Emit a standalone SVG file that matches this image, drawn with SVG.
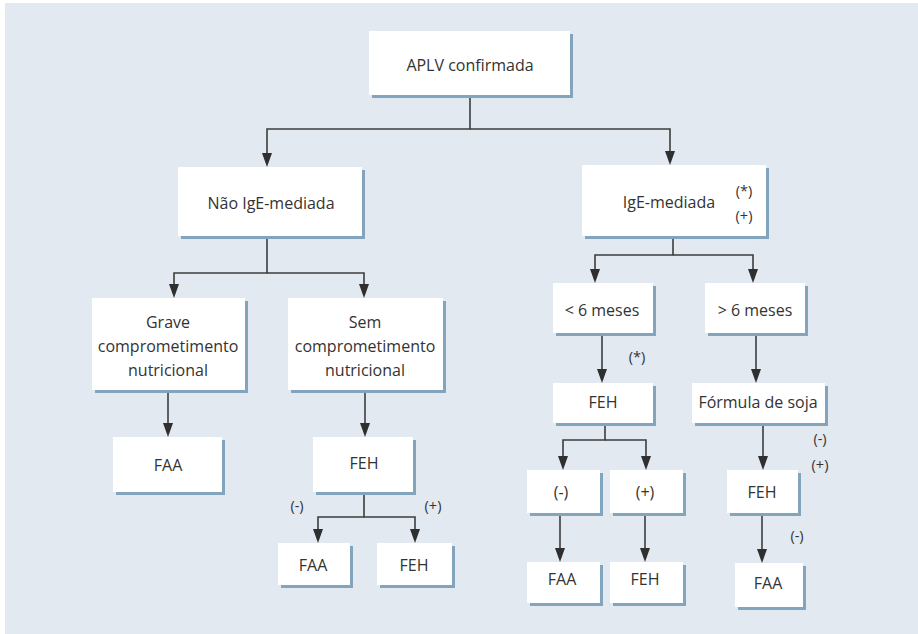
<svg xmlns="http://www.w3.org/2000/svg" width="918" height="634" viewBox="0 0 918 634">
  <defs>
    <style>
      .bg { fill: #e2e9f1; }
      .sh { fill: #82a4bd; }
      .bx { fill: #ffffff; }
      .t { font-family: "Open Sans", "Noto Sans", sans-serif; font-size: 16px; fill: #333333; text-anchor: middle; }
      .s { font-family: "Open Sans", "Noto Sans", sans-serif; font-size: 14.5px; fill: #333333; text-anchor: middle; }
      .c { fill: none; stroke: #3d3d3d; stroke-width: 1.6; }
      .ah { fill: #2f2f2f; }
    </style>
  </defs>

  <rect x="0" y="0" width="918" height="634" fill="#ffffff"/>
  <rect class="bg" x="5" y="3" width="913" height="631"/>

  <!-- connectors: lines, then filled arrowheads at each target box -->
  <g id="connectors">
    <path class="c" d="M470,95 V129 H267 V153"/>
    <path class="c" d="M470,129 H670 V151"/>
    <path class="c" d="M267,236 V273 H174 V284"/>
    <path class="c" d="M267,273 H364 V284"/>
    <path class="c" d="M168,390 V423"/>
    <path class="c" d="M365,390 V423"/>
    <path class="c" d="M364,492 V517 H318 V529"/>
    <path class="c" d="M364,517 H415 V529"/>
    <path class="c" d="M673,236 V255 H595 V269"/>
    <path class="c" d="M673,255 H753 V269"/>
    <path class="c" d="M602,333 V369"/>
    <path class="c" d="M756,333 V369"/>
    <path class="c" d="M605,423 V440 H563 V456"/>
    <path class="c" d="M605,440 H646 V456"/>
    <path class="c" d="M763,423 V456"/>
    <path class="c" d="M560,513 V548"/>
    <path class="c" d="M645,513 V548"/>
    <path class="c" d="M762,513 V549"/>
    <g class="ah">
      <path d="M262,153 L272,153 L267,167 z"/>
      <path d="M665,151 L675,151 L670,165 z"/>
      <path d="M169,284 L179,284 L174,298 z"/>
      <path d="M359,284 L369,284 L364,298 z"/>
      <path d="M163,423 L173,423 L168,437 z"/>
      <path d="M360,423 L370,423 L365,437 z"/>
      <path d="M313,529 L323,529 L318,543 z"/>
      <path d="M410,529 L420,529 L415,543 z"/>
      <path d="M590,269 L600,269 L595,283 z"/>
      <path d="M748,269 L758,269 L753,283 z"/>
      <path d="M597,369 L607,369 L602,383 z"/>
      <path d="M751,369 L761,369 L756,383 z"/>
      <path d="M558,456 L568,456 L563,470 z"/>
      <path d="M641,456 L651,456 L646,470 z"/>
      <path d="M758,456 L768,456 L763,470 z"/>
      <path d="M555,548 L565,548 L560,562 z"/>
      <path d="M640,548 L650,548 L645,562 z"/>
      <path d="M757,549 L767,549 L762,563 z"/>
    </g>
  </g>

  <!-- nodes: offset shadow rect under a white box -->
  <g id="n-aplv">
    <rect class="sh" x="372" y="34" width="201" height="64"/>
    <rect class="bx" x="369" y="31" width="201" height="64"/>
    <text class="t" x="470" y="65" dy=".35em">APLV confirmada</text>
  </g>
  <g id="n-nao-ige">
    <rect class="sh" x="181" y="170" width="184" height="69"/>
    <rect class="bx" x="178" y="167" width="184" height="69"/>
    <text class="t" x="271" y="203" dy=".35em">Não IgE-mediada</text>
  </g>
  <g id="n-ige">
    <rect class="sh" x="585" y="168" width="184" height="71"/>
    <rect class="bx" x="582" y="165" width="184" height="71"/>
    <text class="t" x="669" y="202" dy=".35em">IgE-mediada</text>
    <text class="s" x="744" y="191" dy=".35em">(*)</text>
    <text class="s" x="744" y="216" dy=".35em">(+)</text>
  </g>
  <g id="n-grave">
    <rect class="sh" x="95" y="301" width="153" height="92"/>
    <rect class="bx" x="92" y="298" width="153" height="92"/>
    <text class="t" x="168" y="322" dy=".35em">Grave</text>
    <text class="t" x="168" y="346" dy=".35em">comprometimento</text>
    <text class="t" x="168" y="370" dy=".35em">nutricional</text>
  </g>
  <g id="n-sem">
    <rect class="sh" x="291" y="301" width="155" height="92"/>
    <rect class="bx" x="288" y="298" width="155" height="92"/>
    <text class="t" x="365" y="322" dy=".35em">Sem</text>
    <text class="t" x="365" y="346" dy=".35em">comprometimento</text>
    <text class="t" x="365" y="370" dy=".35em">nutricional</text>
  </g>
  <g id="n-menos6">
    <rect class="sh" x="556" y="286" width="100" height="50"/>
    <rect class="bx" x="553" y="283" width="100" height="50"/>
    <text class="t" x="602" y="310" dy=".35em">&lt; 6 meses</text>
  </g>
  <g id="n-mais6">
    <rect class="sh" x="708" y="286" width="100" height="50"/>
    <rect class="bx" x="705" y="283" width="100" height="50"/>
    <text class="t" x="755" y="310" dy=".35em">&gt; 6 meses</text>
  </g>
  <g id="n-feh-menos6">
    <rect class="sh" x="556" y="386" width="100" height="40"/>
    <rect class="bx" x="553" y="383" width="100" height="40"/>
    <text class="t" x="603" y="402" dy=".35em">FEH</text>
  </g>
  <g id="n-soja">
    <rect class="sh" x="695" y="386" width="133" height="40"/>
    <rect class="bx" x="692" y="383" width="133" height="40"/>
    <text class="t" x="758" y="402" dy=".35em">Fórmula de soja</text>
  </g>
  <g id="n-faa-grave">
    <rect class="sh" x="116" y="440" width="109" height="55"/>
    <rect class="bx" x="113" y="437" width="109" height="55"/>
    <text class="t" x="168" y="465" dy=".35em">FAA</text>
  </g>
  <g id="n-feh-sem">
    <rect class="sh" x="316" y="440" width="100" height="55"/>
    <rect class="bx" x="313" y="437" width="100" height="55"/>
    <text class="t" x="364" y="463" dy=".35em">FEH</text>
  </g>
  <g id="n-faa-sem">
    <rect class="sh" x="281" y="546" width="72" height="42"/>
    <rect class="bx" x="278" y="543" width="72" height="42"/>
    <text class="t" x="313" y="565" dy=".35em">FAA</text>
  </g>
  <g id="n-feh-sem2">
    <rect class="sh" x="380" y="546" width="75" height="42"/>
    <rect class="bx" x="377" y="543" width="75" height="42"/>
    <text class="t" x="414" y="565" dy=".35em">FEH</text>
  </g>
  <g id="n-neg">
    <rect class="sh" x="530" y="473" width="73" height="43"/>
    <rect class="bx" x="527" y="470" width="73" height="43"/>
    <text class="t" x="561" y="492" dy=".35em">(-)</text>
  </g>
  <g id="n-pos">
    <rect class="sh" x="613" y="473" width="73" height="43"/>
    <rect class="bx" x="610" y="470" width="73" height="43"/>
    <text class="t" x="645" y="492" dy=".35em">(+)</text>
  </g>
  <g id="n-feh-soja">
    <rect class="sh" x="730" y="473" width="71" height="43"/>
    <rect class="bx" x="727" y="470" width="71" height="43"/>
    <text class="t" x="762" y="492" dy=".35em">FEH</text>
  </g>
  <g id="n-faa-neg">
    <rect class="sh" x="530" y="565" width="73" height="41"/>
    <rect class="bx" x="527" y="562" width="73" height="41"/>
    <text class="t" x="562" y="579" dy=".35em">FAA</text>
  </g>
  <g id="n-feh-pos">
    <rect class="sh" x="613" y="565" width="73" height="41"/>
    <rect class="bx" x="610" y="562" width="73" height="41"/>
    <text class="t" x="645" y="579" dy=".35em">FEH</text>
  </g>
  <g id="n-faa-soja">
    <rect class="sh" x="738" y="566" width="68" height="44"/>
    <rect class="bx" x="735" y="563" width="68" height="44"/>
    <text class="t" x="768" y="583" dy=".35em">FAA</text>
  </g>

  <!-- edge labels -->
  <g id="labels">
    <text class="s" x="637" y="357" dy=".35em">(*)</text>
    <text class="s" x="820" y="439" dy=".35em">(-)</text>
    <text class="s" x="820" y="465" dy=".35em">(+)</text>
    <text class="s" x="797" y="536" dy=".35em">(-)</text>
    <text class="s" x="297" y="506" dy=".35em">(-)</text>
    <text class="s" x="433" y="506" dy=".35em">(+)</text>
  </g>
</svg>
